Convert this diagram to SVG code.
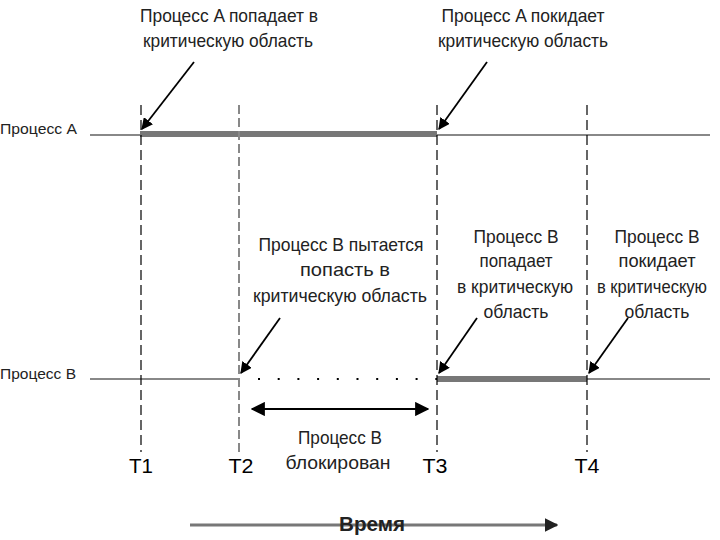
<svg xmlns="http://www.w3.org/2000/svg" width="720" height="540" viewBox="0 0 720 540">
<defs>
<marker id="ah" viewBox="0 0 10 10" refX="9" refY="5" markerWidth="6.5" markerHeight="6.5" orient="auto-start-reverse" markerUnits="strokeWidth">
<path d="M0,0 L10,5 L0,10 Z" fill="#000"/>
</marker>
<marker id="ahg" viewBox="0 0 10 10" refX="9" refY="5" markerWidth="4.5" markerHeight="4.5" orient="auto" markerUnits="strokeWidth">
<path d="M0,0 L10,5 L0,10 Z" fill="#222"/>
</marker>
</defs>
<style>
text{font-family:"Liberation Sans",Arial,sans-serif;fill:#222;}
.lbl{font-size:18.5px;text-anchor:middle;}
.proc{font-size:15px;}
.t{font-size:21px;text-anchor:middle;fill:#000;}
.thin{stroke:#888;stroke-width:2;fill:none;}
.thick{stroke:#777;stroke-width:6;fill:none;}
.vd{stroke:#000;stroke-width:1.2;stroke-dasharray:10 5;fill:none;}
.vg{stroke:#888;stroke-width:2;stroke-dasharray:9 4;fill:none;}
.arr{stroke:#000;stroke-width:1.8;fill:none;marker-end:url(#ah);}
</style>
<rect width="720" height="540" fill="#fff"/>

<g id="timelines">
<line class="thin" x1="90" y1="135" x2="710" y2="135"/>
<line class="thick" x1="140" y1="134" x2="437" y2="134"/>
<line class="thin" x1="90" y1="379" x2="239" y2="379"/>
<line class="thick" x1="437" y1="379" x2="587" y2="379"/>
<line class="thin" x1="587" y1="379" x2="710" y2="379"/>
<line x1="258" y1="379" x2="437" y2="379" stroke="#000" stroke-width="2.2" stroke-dasharray="2 17.7"/>
</g>

<g id="verticals">
<line class="vd" x1="141" y1="105" x2="141" y2="452"/>
<line class="vg" x1="239" y1="105" x2="239" y2="452"/>
<line class="vd" x1="437" y1="105" x2="437" y2="452"/>
<line class="vd" x1="587" y1="105" x2="587" y2="452"/>
</g>

<g id="labels-proc">
<text class="proc" x="0" y="134" textLength="77" lengthAdjust="spacingAndGlyphs">Процесс A</text>
<text class="proc" x="0" y="379" textLength="76" lengthAdjust="spacingAndGlyphs">Процесс B</text>
</g>

<g id="note-a-enter">
<text class="lbl" x="229" y="22" textLength="178" lengthAdjust="spacingAndGlyphs">Процесс A попадает в</text>
<text class="lbl" x="228" y="47" textLength="170" lengthAdjust="spacingAndGlyphs">критическую область</text>
</g>
<g id="note-a-leave">
<text class="lbl" x="523" y="22" textLength="163" lengthAdjust="spacingAndGlyphs">Процесс A покидает</text>
<text class="lbl" x="523" y="47" textLength="170" lengthAdjust="spacingAndGlyphs">критическую область</text>
</g>
<g id="note-b-try">
<text class="lbl" x="341" y="251" textLength="165" lengthAdjust="spacingAndGlyphs">Процесс B пытается</text>
<text class="lbl" x="345" y="276" textLength="90" lengthAdjust="spacingAndGlyphs">попасть в</text>
<text class="lbl" x="340" y="302" textLength="174" lengthAdjust="spacingAndGlyphs">критическую область</text>
</g>
<g id="note-b-enter">
<text class="lbl" x="516" y="243" textLength="85" lengthAdjust="spacingAndGlyphs">Процесс B</text>
<text class="lbl" x="516" y="267" textLength="73" lengthAdjust="spacingAndGlyphs">попадает</text>
<text class="lbl" x="515" y="293" textLength="116" lengthAdjust="spacingAndGlyphs">в критическую</text>
<text class="lbl" x="516" y="318" textLength="65" lengthAdjust="spacingAndGlyphs">область</text>
</g>
<g id="note-b-leave">
<text class="lbl" x="657" y="243" textLength="85" lengthAdjust="spacingAndGlyphs">Процесс B</text>
<text class="lbl" x="657" y="267" textLength="77" lengthAdjust="spacingAndGlyphs">покидает</text>
<text class="lbl" x="652" y="293" font-size="17" textLength="110" lengthAdjust="spacingAndGlyphs">в критическую</text>
<text class="lbl" x="657" y="318" textLength="65" lengthAdjust="spacingAndGlyphs">область</text>
</g>
<g id="note-blocked">
<text class="lbl" x="340" y="444" textLength="84" lengthAdjust="spacingAndGlyphs">Процесс B</text>
<text class="lbl" x="338" y="469" textLength="105" lengthAdjust="spacingAndGlyphs">блокирован</text>
</g>

<g id="ticks">
<text class="t" x="141" y="473" textLength="24" lengthAdjust="spacingAndGlyphs">T1</text>
<text class="t" x="241" y="473" textLength="25" lengthAdjust="spacingAndGlyphs">T2</text>
<text class="t" x="435" y="473" textLength="25" lengthAdjust="spacingAndGlyphs">T3</text>
<text class="t" x="587" y="473" textLength="25" lengthAdjust="spacingAndGlyphs">T4</text>
</g>

<g id="connectors">
<line class="arr" x1="194" y1="62" x2="142" y2="129"/>
<line class="arr" x1="487" y1="62" x2="439" y2="129"/>
<line class="arr" x1="280" y1="318" x2="241" y2="373"/>
<line class="arr" x1="477" y1="318" x2="439" y2="373"/>
<line class="arr" x1="628" y1="318" x2="589" y2="373"/>
<line x1="252" y1="409" x2="428" y2="409" stroke="#000" stroke-width="2.2" marker-start="url(#ah)" marker-end="url(#ah)"/>
<line x1="190" y1="525" x2="557" y2="525" stroke="#777" stroke-width="3" marker-end="url(#ahg)"/>
</g>

<g id="time-label">
<text x="372" y="531" font-size="21" font-weight="bold" text-anchor="middle" fill="#000" textLength="66" lengthAdjust="spacingAndGlyphs">Время</text>
</g>
</svg>
